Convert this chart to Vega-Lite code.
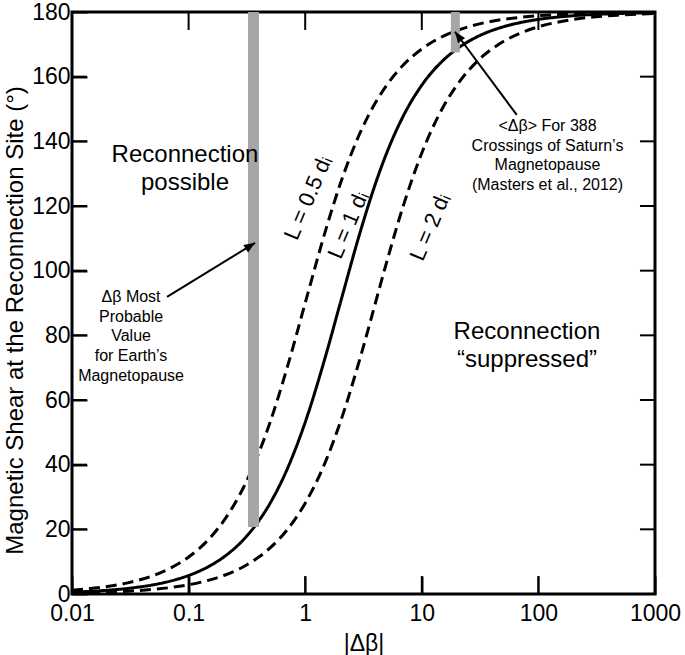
{
  "$schema": "https://vega.github.io/schema/vega-lite/v6.json",
  "width": 583,
  "height": 582,
  "autosize": "none",
  "padding": {"left": 72, "top": 12, "right": 30, "bottom": 61},
  "config": {
    "font": "Liberation Sans",
    "view": {"stroke": "black", "strokeWidth": 3},
    "axis": {"grid": false, "labelColor": "black", "titleColor": "black", "labelFontSize": 23, "titleFontSize": 24, "titleFontWeight": "normal", "labelOverlap": false}
  },
  "datasets": {
    "curves": [
      {"x": 0.01, "y": 1.15, "s": "L=0.5"}, {"x": 0.02, "y": 2.29, "s": "L=0.5"}, {"x": 0.03, "y": 3.44, "s": "L=0.5"}, {"x": 0.05, "y": 5.72, "s": "L=0.5"}, {"x": 0.07, "y": 8.01, "s": "L=0.5"}, {"x": 0.1, "y": 11.42, "s": "L=0.5"}, {"x": 0.15, "y": 17.06, "s": "L=0.5"}, {"x": 0.2, "y": 22.62, "s": "L=0.5"}, {"x": 0.3, "y": 33.4, "s": "L=0.5"}, {"x": 0.4, "y": 43.6, "s": "L=0.5"}, {"x": 0.5, "y": 53.13, "s": "L=0.5"}, {"x": 0.7, "y": 69.98, "s": "L=0.5"}, {"x": 1, "y": 90.0, "s": "L=0.5"}, {"x": 1.5, "y": 112.62, "s": "L=0.5"}, {"x": 2, "y": 126.87, "s": "L=0.5"}, {"x": 3, "y": 143.13, "s": "L=0.5"}, {"x": 4, "y": 151.93, "s": "L=0.5"}, {"x": 5, "y": 157.38, "s": "L=0.5"}, {"x": 7, "y": 163.74, "s": "L=0.5"}, {"x": 10, "y": 168.58, "s": "L=0.5"}, {"x": 15, "y": 172.37, "s": "L=0.5"}, {"x": 20, "y": 174.28, "s": "L=0.5"}, {"x": 30, "y": 176.18, "s": "L=0.5"}, {"x": 50, "y": 177.71, "s": "L=0.5"}, {"x": 70, "y": 178.36, "s": "L=0.5"}, {"x": 100, "y": 178.85, "s": "L=0.5"}, {"x": 200, "y": 179.43, "s": "L=0.5"}, {"x": 500, "y": 179.77, "s": "L=0.5"}, {"x": 1000, "y": 179.89, "s": "L=0.5"},
      {"x": 0.01, "y": 0.57, "s": "L=1"}, {"x": 0.02, "y": 1.15, "s": "L=1"}, {"x": 0.03, "y": 1.72, "s": "L=1"}, {"x": 0.05, "y": 2.86, "s": "L=1"}, {"x": 0.07, "y": 4.01, "s": "L=1"}, {"x": 0.1, "y": 5.73, "s": "L=1"}, {"x": 0.15, "y": 8.58, "s": "L=1"}, {"x": 0.2, "y": 11.42, "s": "L=1"}, {"x": 0.3, "y": 17.06, "s": "L=1"}, {"x": 0.4, "y": 22.62, "s": "L=1"}, {"x": 0.5, "y": 28.07, "s": "L=1"}, {"x": 0.7, "y": 38.58, "s": "L=1"}, {"x": 1, "y": 53.13, "s": "L=1"}, {"x": 1.5, "y": 73.74, "s": "L=1"}, {"x": 2, "y": 90.0, "s": "L=1"}, {"x": 3, "y": 112.62, "s": "L=1"}, {"x": 4, "y": 126.87, "s": "L=1"}, {"x": 5, "y": 136.4, "s": "L=1"}, {"x": 7, "y": 148.11, "s": "L=1"}, {"x": 10, "y": 157.38, "s": "L=1"}, {"x": 15, "y": 164.81, "s": "L=1"}, {"x": 20, "y": 168.58, "s": "L=1"}, {"x": 30, "y": 172.37, "s": "L=1"}, {"x": 50, "y": 175.42, "s": "L=1"}, {"x": 70, "y": 176.73, "s": "L=1"}, {"x": 100, "y": 177.71, "s": "L=1"}, {"x": 200, "y": 178.85, "s": "L=1"}, {"x": 500, "y": 179.54, "s": "L=1"}, {"x": 1000, "y": 179.77, "s": "L=1"},
      {"x": 0.01, "y": 0.29, "s": "L=2"}, {"x": 0.02, "y": 0.57, "s": "L=2"}, {"x": 0.03, "y": 0.86, "s": "L=2"}, {"x": 0.05, "y": 1.43, "s": "L=2"}, {"x": 0.07, "y": 2.0, "s": "L=2"}, {"x": 0.1, "y": 2.86, "s": "L=2"}, {"x": 0.15, "y": 4.3, "s": "L=2"}, {"x": 0.2, "y": 5.73, "s": "L=2"}, {"x": 0.3, "y": 8.58, "s": "L=2"}, {"x": 0.4, "y": 11.42, "s": "L=2"}, {"x": 0.5, "y": 14.25, "s": "L=2"}, {"x": 0.7, "y": 19.85, "s": "L=2"}, {"x": 1, "y": 28.07, "s": "L=2"}, {"x": 1.5, "y": 41.11, "s": "L=2"}, {"x": 2, "y": 53.13, "s": "L=2"}, {"x": 3, "y": 73.74, "s": "L=2"}, {"x": 4, "y": 90.0, "s": "L=2"}, {"x": 5, "y": 102.68, "s": "L=2"}, {"x": 7, "y": 120.51, "s": "L=2"}, {"x": 10, "y": 136.4, "s": "L=2"}, {"x": 15, "y": 150.14, "s": "L=2"}, {"x": 20, "y": 157.38, "s": "L=2"}, {"x": 30, "y": 164.81, "s": "L=2"}, {"x": 50, "y": 170.85, "s": "L=2"}, {"x": 70, "y": 173.46, "s": "L=2"}, {"x": 100, "y": 175.42, "s": "L=2"}, {"x": 200, "y": 177.71, "s": "L=2"}, {"x": 500, "y": 179.08, "s": "L=2"}, {"x": 1000, "y": 179.54, "s": "L=2"}
    ],
    "bars": [
      {"name": "earth", "x": 0.36, "y1": 20.7, "y2": 180},
      {"name": "saturn", "x": 19.4, "y1": 167.5, "y2": 180}
    ],
    "vticks": [
      {"v": 0.1, "a": 0, "b": 5.57}, {"v": 1, "a": 0, "b": 5.57}, {"v": 10, "a": 0, "b": 5.57}, {"v": 100, "a": 0, "b": 5.57},
      {"v": 0.1, "a": 180, "b": 174.43}, {"v": 1, "a": 180, "b": 174.43}, {"v": 10, "a": 180, "b": 174.43}, {"v": 100, "a": 180, "b": 174.43}
    ],
    "hticks": [
      {"v": 20, "a": 0.01, "b": 0.01345}, {"v": 40, "a": 0.01, "b": 0.01345}, {"v": 60, "a": 0.01, "b": 0.01345}, {"v": 80, "a": 0.01, "b": 0.01345}, {"v": 100, "a": 0.01, "b": 0.01345}, {"v": 120, "a": 0.01, "b": 0.01345}, {"v": 140, "a": 0.01, "b": 0.01345}, {"v": 160, "a": 0.01, "b": 0.01345},
      {"v": 20, "a": 1000, "b": 743}, {"v": 40, "a": 1000, "b": 743}, {"v": 60, "a": 1000, "b": 743}, {"v": 80, "a": 1000, "b": 743}, {"v": 100, "a": 1000, "b": 743}, {"v": 120, "a": 1000, "b": 743}, {"v": 140, "a": 1000, "b": 743}, {"v": 160, "a": 1000, "b": 743}
    ],
    "curveLabels": [
      {"x": 1.057, "y": 122.5, "t": "L = 0.5 dᵢ"},
      {"x": 2.33, "y": 114.1, "t": "L = 1 dᵢ"},
      {"x": 11.75, "y": 113.5, "t": "L = 2 dᵢ"}
    ],
    "notes": [
      {"kind": "big", "x": 0.0931, "y": 135.8, "t": "Reconnection\npossible"},
      {"kind": "big", "x": 79.8, "y": 81.0, "t": "Reconnection\n“suppressed”"},
      {"kind": "small", "x": 0.0321, "y": 91.9, "t": "Δβ Most\nProbable\nValue\nfor Earth’s\nMagnetopause"},
      {"kind": "small", "x": 119.7, "y": 144.8, "t": "<Δβ> For 388\nCrossings of Saturn’s\nMagnetopause\n(Masters et al., 2012)"}
    ],
    "arrows": [
      {"name": "earth", "x1": 0.0653, "y1": 91.9, "x2": 0.3715, "y2": 108.6},
      {"name": "saturn", "x1": 65.2, "y1": 148.2, "x2": 19.26, "y2": 173.9}
    ]
  },
  "layer": [
    {
      "data": {"name": "curves"},
      "mark": {"type": "line", "color": "black", "strokeWidth": 3, "interpolate": "monotone"},
      "encoding": {
        "x": {"field": "x", "type": "quantitative", "scale": {"type": "log", "domain": [0.01, 1000], "nice": false},
          "axis": {"orient": "bottom", "values": [0.01, 0.1, 1, 10, 100, 1000], "format": "~g", "labelFlush": false, "domain": false, "ticks": true, "tickColor": "black", "tickWidth": 2, "tickSize": -18, "labelPadding": 26, "title": "|Δβ|", "titleFontSize": 23, "titleY": 56, "titleBaseline": "alphabetic"}},
        "y": {"field": "y", "type": "quantitative", "scale": {"domain": [0, 180], "nice": false},
          "axis": {"orient": "left", "values": [0, 20, 40, 60, 80, 100, 120, 140, 160, 180], "domain": false, "ticks": true, "tickColor": "black", "tickWidth": 2, "tickSize": -15, "labelPadding": 17, "title": "Magnetic Shear at the Reconnection Site (°)", "titleX": -50, "titleY": 308, "titleAngle": -90, "titleAlign": "center", "titleBaseline": "alphabetic"}},
        "strokeDash": {"field": "s", "type": "nominal", "scale": {"domain": ["L=0.5", "L=1", "L=2"], "range": [[11, 6], [1, 0], [11, 6]]}, "legend": null}
      }
    },
    {
      "data": {"name": "bars"},
      "transform": [{"filter": "datum.name == 'earth'"}],
      "mark": {"type": "rule", "strokeWidth": 11, "color": "#a6a6a6", "strokeCap": "butt"},
      "encoding": {
        "x": {"field": "x", "type": "quantitative"},
        "y": {"field": "y1", "type": "quantitative"},
        "y2": {"field": "y2"}
      }
    },
    {
      "data": {"name": "bars"},
      "transform": [{"filter": "datum.name == 'saturn'"}],
      "mark": {"type": "rule", "strokeWidth": 9, "color": "#a6a6a6", "strokeCap": "butt"},
      "encoding": {
        "x": {"field": "x", "type": "quantitative"},
        "y": {"field": "y1", "type": "quantitative"},
        "y2": {"field": "y2"}
      }
    },
    {
      "data": {"name": "vticks"},
      "transform": [{"filter": "datum.v > 0"}],
      "mark": {"type": "rule", "strokeWidth": 2, "color": "black", "strokeCap": "butt"},
      "encoding": {
        "x": {"field": "v", "type": "quantitative"},
        "y": {"field": "a", "type": "quantitative"},
        "y2": {"field": "b"}
      }
    },
    {
      "data": {"name": "hticks"},
      "transform": [{"filter": "datum.v > 0"}],
      "mark": {"type": "rule", "strokeWidth": 2, "color": "black", "strokeCap": "butt"},
      "encoding": {
        "y": {"field": "v", "type": "quantitative"},
        "x": {"field": "a", "type": "quantitative"},
        "x2": {"field": "b"}
      }
    },
    {
      "data": {"name": "curveLabels"},
      "mark": {"type": "text", "angle": -67, "fontSize": 22, "align": "center", "baseline": "middle", "color": "black"},
      "encoding": {
        "x": {"field": "x", "type": "quantitative"},
        "y": {"field": "y", "type": "quantitative"},
        "text": {"field": "t"}
      }
    },
    {
      "data": {"name": "notes"},
      "transform": [{"filter": "datum.kind == 'big'"}],
      "mark": {"type": "text", "fontSize": 24, "lineHeight": 28, "lineBreak": "\n", "align": "center", "baseline": "middle", "color": "black"},
      "encoding": {
        "x": {"field": "x", "type": "quantitative"},
        "y": {"field": "y", "type": "quantitative"},
        "text": {"field": "t"}
      }
    },
    {
      "data": {"name": "notes"},
      "transform": [{"filter": "datum.kind == 'small'"}],
      "mark": {"type": "text", "fontSize": 16, "lineHeight": 19.7, "lineBreak": "\n", "align": "center", "baseline": "middle", "color": "black"},
      "encoding": {
        "x": {"field": "x", "type": "quantitative"},
        "y": {"field": "y", "type": "quantitative"},
        "text": {"field": "t"}
      }
    },
    {
      "data": {"name": "arrows"},
      "mark": {"type": "rule", "strokeWidth": 2, "color": "black"},
      "encoding": {
        "x": {"field": "x1", "type": "quantitative"},
        "y": {"field": "y1", "type": "quantitative"},
        "x2": {"field": "x2"},
        "y2": {"field": "y2"}
      }
    },
    {
      "data": {"name": "arrows"},
      "transform": [{"filter": "datum.name == 'earth'"}],
      "mark": {"type": "point", "shape": "M0,0 L-0.4,1 L0.4,1 Z", "size": 484, "filled": true, "color": "black", "opacity": 1, "angle": 58},
      "encoding": {
        "x": {"field": "x2", "type": "quantitative"},
        "y": {"field": "y2", "type": "quantitative"}
      }
    },
    {
      "data": {"name": "arrows"},
      "transform": [{"filter": "datum.name == 'saturn'"}],
      "mark": {"type": "point", "shape": "M0,0 L-0.4,1 L0.4,1 Z", "size": 484, "filled": true, "color": "black", "opacity": 1, "angle": 323.5},
      "encoding": {
        "x": {"field": "x2", "type": "quantitative"},
        "y": {"field": "y2", "type": "quantitative"}
      }
    }
  ]
}
